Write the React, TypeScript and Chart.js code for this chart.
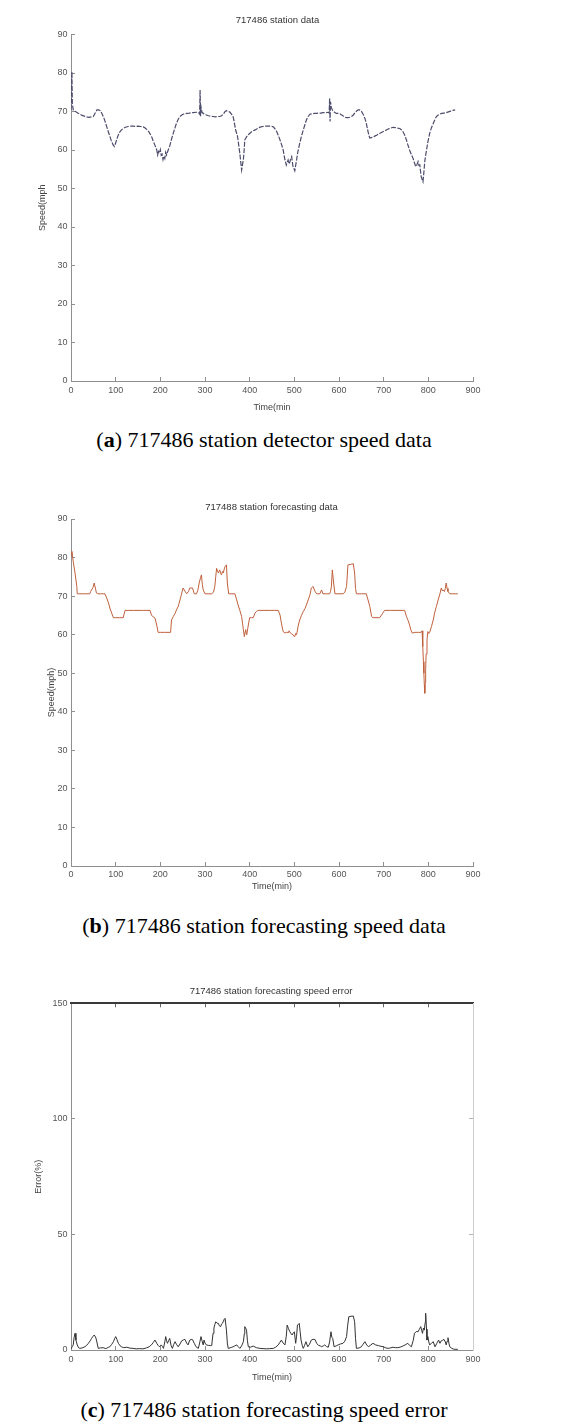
import React, { useEffect, useRef } from "react";
import { Chart, registerables } from "chart.js";

Chart.register(...registerables);

// ---- (a) detector speed, station 717486 ----
const detectorTime = [
  0, 1, 2, 3, 5, 10, 15, 20, 25, 30,
  35, 40, 45, 50, 55, 58, 62, 66, 70, 74,
  78, 82, 86, 90, 94, 97, 100, 104, 108, 112,
  117, 122, 128, 134, 139, 145, 150, 156, 162, 166,
  170, 174, 177, 181, 184, 188, 192, 194, 196, 198,
  200, 202, 204, 206, 208, 210, 212, 214, 217, 221,
  225, 229, 233, 236, 240, 244, 248, 251, 255, 259,
  265, 270, 274, 280, 285, 288, 289, 290, 291, 293,
  296, 300, 303, 308, 313, 318, 323, 328, 333, 337,
  341, 345, 348, 352, 356, 360, 363, 365, 367, 369,
  371, 373, 374, 376, 378, 380, 382, 384, 386, 388,
  389, 391, 393, 396, 400, 405, 410, 415, 420, 425,
  430, 436, 440, 445, 450, 453, 456, 460, 464, 468,
  472, 475, 477, 479, 481, 482, 484, 486, 488, 490,
  492, 494, 496, 497, 499, 501, 503, 505, 508, 512,
  516, 520, 524, 527, 531, 535, 540, 545, 550, 556,
  560, 564, 570, 576, 578, 579, 580, 581, 583, 586,
  590, 594, 598, 602, 606, 610, 613, 617, 620, 624,
  628, 632, 636, 640, 643, 646, 650, 654, 658, 661,
  663, 665, 667, 669, 672, 676, 680, 685, 691, 696,
  701, 706, 711, 716, 721, 726, 731, 736, 740, 743,
  747, 751, 754, 758, 762, 766, 769, 771, 773, 775,
  777, 779, 781, 782, 784, 786, 788, 790, 792, 794,
  796, 799, 803, 807, 811, 815, 818, 822, 825, 830,
  835, 840, 845, 850, 855, 860,
];
const detectorSpeed = [
  70.5, 76, 80.3, 72, 70.4, 70, 69.6, 69.3, 69, 68.8,
  68.6, 68.5, 68.6, 68.7, 69.8, 70.4, 70.4, 70.2, 69.3, 68.2,
  66.8, 65.3, 63.9, 62.5, 61.4, 60.9, 61.8, 63.3, 64.5, 65.1,
  65.6, 65.9, 66.1, 66.2, 66.2, 66.1, 66.2, 66.1, 66.0, 65.7,
  65.3, 64.8, 64.2, 63.3, 62.3, 61.2, 60.0, 58.7, 59.6, 59.2,
  60.1, 58.6, 58.9, 57.5, 58.4, 57.8, 59.4, 58.7, 59.8, 61.0,
  62.8, 64.4, 65.8, 66.9, 68.0, 68.7, 69.1, 69.3, 69.4, 69.5,
  69.6, 69.7, 69.7, 69.8, 69.8, 69.3, 75.6, 68.8, 71.2, 69.9,
  69.5, 69.3, 69.1, 68.9, 68.8, 68.7, 68.6, 68.7, 68.7, 68.9,
  69.3, 70.0, 70.2, 70.1, 69.8, 69.2, 68.6, 67.6, 66.2, 65.0,
  64.3, 63.4, 62.6, 60.8, 59.1, 56.9, 54.8, 56.2, 57.6, 60.5,
  62.6, 63.0, 63.4, 63.9, 64.3, 64.8, 65.1, 65.4, 65.8, 66.0,
  66.1, 66.2, 66.2, 66.2, 66.1, 66.0, 65.6, 64.9, 63.8, 62.6,
  61.2, 60.0, 58.7, 57.4, 56.6, 56.1, 56.8, 57.4, 56.4, 56.9,
  57.8, 58.3, 56.5, 55.7, 55.2, 54.6, 56.0, 57.4, 59.6, 61.7,
  63.6, 65.2, 66.7, 67.8, 68.7, 69.3, 69.4, 69.5, 69.5, 69.6,
  69.6, 69.7, 69.7, 69.8, 69.6, 73.4, 67.4, 72.5, 71.0, 70.2,
  69.8, 69.5, 69.5, 69.4, 69.1, 68.8, 68.5, 68.4, 68.4, 68.5,
  68.7, 69.1, 69.7, 70.2, 70.4, 70.4, 70.1, 69.3, 68.2, 67.0,
  65.9, 64.8, 63.8, 63.1, 63.2, 63.3, 63.6, 63.9, 64.3, 64.6,
  64.9, 65.2, 65.5, 65.7, 65.9, 65.8, 65.7, 65.6, 65.2, 64.8,
  63.9, 62.6, 61.4, 60.0, 58.8, 57.8, 56.6, 56.0, 55.7, 56.4,
  57.0, 56.0, 56.1, 55.0, 53.1, 52.4, 51.8, 54.2, 57.0, 58.6,
  60.0, 62.1, 64.3, 65.8, 66.9, 68.0, 68.7, 69.1, 69.3, 69.5,
  69.6, 69.7, 69.9, 70.1, 70.3, 70.4,
];

// ---- (b) forecast speed ----
const forecastTime = [
  0, 2, 5, 9, 13, 14, 20, 30, 40, 42,
  44, 46, 49, 52, 55, 57, 60, 66, 72, 76,
  80, 84, 87, 91, 95, 100, 108, 117, 119, 121,
  130, 140, 150, 160, 170, 177, 180, 184, 188, 192,
  195, 200, 210, 223, 225, 229, 233, 236, 240, 244,
  248, 251, 255, 259, 263, 266, 272, 276, 281, 284,
  287, 290, 292, 294, 296, 300, 307, 315, 319, 322,
  324, 326, 328, 330, 333, 335, 337, 339, 341, 343,
  345, 348, 350, 353, 360, 367, 371, 374, 378, 382,
  384, 386, 388, 390, 391, 393, 394, 396, 397, 400,
  404, 408, 412, 415, 419, 430, 445, 455, 464, 468,
  471, 475, 479, 482, 486, 488, 490, 494, 497, 499,
  501, 503, 505, 507, 509, 512, 516, 520, 524, 527,
  531, 535, 538, 542, 546, 550, 557, 561, 564, 572,
  579, 581, 583, 585, 588, 591, 600, 609, 613, 617,
  620, 625, 632, 635, 637, 639, 650, 661, 665, 669,
  673, 676, 685, 691, 697, 702, 715, 730, 747, 751,
  755, 758, 761, 764, 770, 778, 784, 786, 787, 788,
  789, 790, 791, 792, 793, 794, 795, 797, 799, 801,
  803, 807, 811, 814, 818, 822, 826, 829, 831, 833,
  836, 838, 840, 842, 844, 848, 855, 860, 866,
];
const forecastSpeed = [
  80.5, 81.6, 79, 76, 72.5, 70.6, 70.6, 70.6, 70.6, 70.6,
  71.2, 71.6, 72.2, 73.4, 71.8, 70.8, 70.6, 70.6, 70.6, 70.6,
  69.5, 68.2, 66.9, 65.6, 64.4, 64.4, 64.4, 64.4, 65.4, 66.3,
  66.3, 66.3, 66.3, 66.3, 66.3, 66.3, 65.1, 64.6, 64.3, 62.5,
  60.6, 60.6, 60.6, 60.6, 63.8, 64.7, 65.5, 66.4, 67.3, 69.0,
  70.8, 72.1, 71.3, 70.6, 71.2, 72.1, 72.1, 70.6, 70.6, 71.5,
  73.4, 74.8, 75.5, 73.0, 71.6, 70.6, 70.6, 70.6, 71.0, 72.5,
  75.0, 77.2, 76.5, 76.0, 76.8, 75.9, 75.5, 76.4, 76.0, 77.0,
  77.7, 78.1, 73.4, 70.6, 70.6, 70.6, 69.0, 67.7, 66.3, 64.7,
  63.0, 61.3, 59.5, 60.8, 61.3, 60.0, 60.4, 61.8, 62.5, 64.4,
  64.4, 64.4, 65.6, 66.0, 66.3, 66.3, 66.3, 66.3, 66.3, 65.1,
  63.0, 60.8, 60.4, 60.6, 60.6, 61.0, 60.6, 60.2, 60.0, 59.6,
  59.5, 60.3, 60.0, 61.2, 62.5, 63.8, 65.0, 66.0, 66.8, 67.7,
  69.0, 70.3, 72.1, 72.5, 71.3, 70.6, 70.6, 71.6, 70.6, 70.6,
  70.6, 71.2, 72.5, 76.8, 73.4, 70.6, 70.6, 70.6, 71.0, 72.5,
  78.1, 78.2, 78.4, 76.0, 72.0, 70.6, 70.6, 70.6, 69.0, 67.3,
  64.7, 64.4, 64.4, 64.4, 65.4, 66.3, 66.3, 66.3, 66.3, 64.7,
  63.6, 62.5, 61.2, 60.4, 60.6, 60.6, 60.6, 61.0, 58.0, 56.9,
  53.0, 50.0, 47.0, 44.8, 47.5, 50.9, 55.0, 58.7, 60.8, 60.3,
  60.6, 62.1, 63.8, 65.6, 67.3, 69.0, 70.6, 72.1, 71.4, 71.6,
  71.2, 72.0, 73.4, 72.0, 71.2, 70.6, 70.6, 70.6, 70.6,
];

// ---- (c) forecast error in percent ----
const errorTime = [
  0, 3, 5, 7, 9, 11, 14, 17, 20, 25,
  31, 35, 39, 43, 46, 49, 52, 55, 57, 61,
  66, 72, 78, 84, 87, 91, 95, 98, 100, 103,
  106, 110, 113, 118, 125, 132, 139, 146, 154, 161,
  169, 175, 180, 184, 188, 192, 195, 198, 202, 205,
  207, 210, 212, 214, 216, 219, 221, 224, 227, 230,
  233, 236, 240, 244, 248, 252, 255, 259, 262, 266,
  269, 272, 276, 280, 285, 288, 291, 294, 296, 298,
  300, 303, 308, 312, 315, 318, 320, 322, 324, 327,
  330, 332, 335, 337, 339, 341, 342, 345, 348, 350,
  352, 356, 360, 363, 367, 371, 374, 378, 382, 386,
  388, 389, 391, 393, 395, 397, 402, 408, 415, 423,
  430, 438, 445, 453, 458, 464, 468, 471, 475, 479,
  482, 484, 487, 490, 493, 495, 498, 500, 503, 505,
  507, 509, 511, 513, 515, 518, 520, 523, 526, 530,
  534, 538, 542, 546, 550, 554, 558, 561, 565, 568,
  572, 576, 579, 582, 584, 586, 589, 594, 598, 603,
  609, 613, 617, 619, 622, 627, 632, 635, 637, 639,
  645, 650, 654, 658, 662, 666, 670, 676, 682, 688,
  694, 699, 705, 710, 715, 721, 726, 732, 738, 743,
  748, 754, 758, 762, 766, 769, 773, 777, 780, 783,
  785, 787, 789, 791, 793, 794, 796, 797, 799, 801,
  803, 807, 811, 815, 819, 823, 826, 829, 832, 835,
  838, 840, 842, 844, 846, 848, 852, 856, 860, 866,
];
const errorPercent = [
  0.5, 1.5, 2.2, 5.5, 7.2, 4.3, 2.2, 1.0, 0.7, 0.9,
  1.4, 2.0, 2.9, 4.0, 5.0, 5.8, 6.5, 5.6, 4.3, 0.7,
  0.9, 1.0, 0.6, 1.2, 1.4, 2.4, 3.6, 5.0, 5.8, 4.5,
  2.9, 1.8, 1.4, 1.0, 1.2, 0.8, 0.7, 0.5, 0.6, 0.5,
  0.9, 1.4, 2.2, 3.2, 4.3, 2.9, 2.0, 1.4, 2.2, 1.5,
  0.7, 3.5, 5.8, 4.0, 2.9, 4.2, 5.0, 2.0, 0.7, 2.4,
  3.6, 2.5, 1.4, 2.6, 4.0, 4.4, 4.6, 3.0, 2.2, 4.3,
  4.6, 4.5, 2.9, 1.4, 0.7, 3.0, 5.8, 3.5, 2.2, 4.3,
  3.0, 2.2, 2.0, 1.9, 1.9, 7.2, 9.5, 11.0, 12.2, 11.6,
  11.5, 10.5, 10.1, 11.2, 11.5, 12.4, 13.0, 13.7, 8.6, 3.0,
  0.7, 0.9, 1.2, 1.4, 1.8, 2.2, 1.5, 0.7, 1.8, 3.6,
  7.0, 10.1, 9.5, 8.6, 4.0, 1.4, 1.2, 1.7, 1.0, 0.7,
  0.6, 0.5, 0.6, 0.7, 1.2, 2.2, 3.4, 4.3, 3.0, 2.2,
  6.0, 10.8, 9.2, 7.9, 7.0, 6.5, 7.5, 7.9, 2.9, 6.0,
  10.8, 11.0, 11.5, 8.0, 4.3, 1.8, 0.7, 2.0, 3.6, 1.4,
  2.5, 4.3, 4.6, 4.6, 2.9, 2.0, 1.8, 1.4, 1.8, 2.2,
  1.5, 1.2, 3.5, 7.9, 5.5, 5.0, 1.4, 1.8, 2.2, 2.6,
  2.9, 3.8, 5.8, 10.0, 14.4, 14.6, 14.7, 12.2, 5.0, 0.7,
  0.9, 1.4, 2.5, 3.6, 2.2, 1.4, 2.0, 2.9, 2.2, 1.9,
  1.6, 1.4, 0.9, 0.7, 0.9, 1.2, 1.0, 1.0, 1.3, 1.7,
  2.2, 2.9, 2.0, 1.4, 4.0, 7.2, 8.0, 7.9, 9.0, 10.1,
  8.5, 7.2, 9.5, 8.6, 12.0, 15.9, 9.0, 4.3, 5.8, 3.5,
  2.2, 2.9, 3.6, 1.4, 2.9, 4.3, 2.9, 4.0, 4.2, 4.6,
  3.5, 2.2, 3.8, 5.3, 3.0, 1.4, 0.8, 0.4, 0.3, 0.3,
];

const timeMax = 900;
const timeStep = 100;
const speedMax = 90;
const speedStep = 10;
const errorMax = 150;
const errorStep = 50;

const SANS = "'Liberation Sans', Arial, Helvetica, sans-serif";
const SERIF = "'Liberation Serif', 'Times New Roman', Times, serif";
const AXIS_GRAY = "#8f8f8f";
const TICK_TEXT = "#555555";
const tickFont = { family: SANS, size: 9 };

type PanelSpec = {
  top: number;
  height: number;
  padTop: number;
  padBottom: number;
  yMax: number;
  yStep: number;
  yTitle: string;
  yTitlePad: number;
  xTitle: string;
  xAxisHeight: number;
  xTitlePad: number;
  xTickPad: number;
  times: number[];
  values: number[];
  color: string;
  lineWidth: number;
  dash: number[];
  boxed: boolean;
};

function buildConfig(s: PanelSpec): any {
  const points = s.times.map((t, i) => ({ x: t, y: s.values[i] }));
  const innerGrid = {
    drawOnChartArea: false,
    drawTicks: true,
    tickLength: -4,
    color: AXIS_GRAY,
  };
  const scales: any = {
    x: {
      type: "linear",
      position: "bottom",
      min: 0,
      max: timeMax,
      ticks: {
        stepSize: timeStep,
        color: TICK_TEXT,
        font: tickFont,
        padding: s.xTickPad,
        maxRotation: 0,
        autoSkip: false,
      },
      grid: innerGrid,
      border: { display: true, color: AXIS_GRAY, width: 1 },
      title: {
        display: true,
        text: s.xTitle,
        color: "#444",
        font: tickFont,
        padding: { top: 0, bottom: s.xTitlePad },
      },
      afterFit: (sc: any) => {
        sc.height = s.xAxisHeight;
      },
    },
    y: {
      type: "linear",
      position: "left",
      min: 0,
      max: s.yMax,
      ticks: {
        stepSize: s.yStep,
        color: TICK_TEXT,
        font: tickFont,
        padding: 7.5,
      },
      grid: innerGrid,
      border: { display: true, color: AXIS_GRAY, width: 1 },
      title: {
        display: true,
        text: s.yTitle,
        color: "#444",
        font: tickFont,
        padding: { top: s.yTitlePad, bottom: 0 },
      },
      afterFit: (sc: any) => {
        sc.width = 71;
      },
    },
  };
  if (s.boxed) {
    scales.x2 = {
      type: "linear",
      position: "top",
      min: 0,
      max: timeMax,
      ticks: { display: false, stepSize: timeStep },
      grid: { ...innerGrid, color: "#666" },
      border: { display: true, color: "#3a3a3a", width: 2 },
      afterFit: (sc: any) => {
        sc.height = 0;
      },
    };
    scales.y2 = {
      type: "linear",
      position: "right",
      min: 0,
      max: s.yMax,
      ticks: { display: false, stepSize: s.yStep },
      grid: { ...innerGrid, color: "#b5b5b5" },
      border: { display: true, color: "#cfcfcf", width: 1 },
      afterFit: (sc: any) => {
        sc.width = 0;
      },
    };
  }
  return {
    type: "line",
    data: {
      datasets: [
        {
          data: points,
          xAxisID: "x",
          yAxisID: "y",
          borderColor: s.color,
          borderWidth: s.lineWidth,
          borderDash: s.dash,
          pointRadius: 0,
          tension: 0,
          fill: false,
        },
      ],
    },
    options: {
      responsive: false,
      animation: false,
      devicePixelRatio: 1,
      layout: {
        padding: { left: 0, right: 98, top: s.padTop, bottom: s.padBottom },
      },
      plugins: {
        legend: { display: false },
        tooltip: { enabled: false },
        title: { display: false },
      },
      scales,
    },
  };
}

function Panel({ spec }: { spec: PanelSpec }) {
  const ref = useRef<HTMLCanvasElement | null>(null);
  useEffect(() => {
    if (!ref.current) return;
    const chart = new Chart(ref.current, buildConfig(spec));
    return () => chart.destroy();
  }, [spec]);
  return (
    <canvas
      ref={ref}
      width={571}
      height={spec.height}
      style={{
        position: "absolute",
        left: 0,
        top: spec.top,
        width: 571,
        height: spec.height,
      }}
    />
  );
}

const panelA: PanelSpec = {
  top: 0,
  height: 425,
  padTop: 34.5,
  padBottom: 8,
  yMax: speedMax,
  yStep: speedStep,
  yTitle: "Speed(mph",
  yTitlePad: 37.6,
  xTitle: "Time(min",
  xAxisHeight: 36,
  xTitlePad: 3.6,
  xTickPad: 8,
  times: detectorTime,
  values: detectorSpeed,
  color: "#4c4c6c",
  lineWidth: 1.2,
  dash: [5, 1.5],
  boxed: false,
};

const panelB: PanelSpec = {
  top: 480,
  height: 430,
  padTop: 39,
  padBottom: 14,
  yMax: speedMax,
  yStep: speedStep,
  yTitle: "Speed(mph)",
  yTitlePad: 46.6,
  xTitle: "Time(min)",
  xAxisHeight: 30,
  xTitlePad: 3.9,
  xTickPad: 7,
  times: forecastTime,
  values: forecastSpeed,
  color: "#c0603c",
  lineWidth: 1,
  dash: [],
  boxed: false,
};

const panelC: PanelSpec = {
  top: 975,
  height: 420,
  padTop: 28.3,
  padBottom: 9,
  yMax: errorMax,
  yStep: errorStep,
  yTitle: "Error(%)",
  yTitlePad: 33.6,
  xTitle: "Time(min)",
  xAxisHeight: 36,
  xTitlePad: 2.9,
  xTickPad: 8,
  times: errorTime,
  values: errorPercent,
  color: "#333333",
  lineWidth: 1,
  dash: [],
  boxed: true,
};

const chartTitles = [
  { text: "717486 station data", cx: 277.5, cy: 19.5 },
  { text: "717488 station forecasting data", cx: 271.5, cy: 506.7 },
  { text: "717486 station forecasting speed error", cx: 271, cy: 990.7 },
];

const captions = [
  { tag: "a", text: " 717486 station detector speed data", cy: 440 },
  { tag: "b", text: " 717486 station forecasting speed data", cy: 925.7 },
  { tag: "c", text: " 717486 station forecasting speed error", cy: 1410 },
];

export default function App() {
  return (
    <div
      style={{
        position: "absolute",
        left: 0,
        top: 0,
        width: 571,
        height: 1427,
        background: "#ffffff",
        overflow: "hidden",
      }}
    >
      <Panel spec={panelA} />
      <Panel spec={panelB} />
      <Panel spec={panelC} />
      {chartTitles.map((t) => (
        <div
          key={t.text}
          style={{
            position: "absolute",
            left: t.cx,
            top: t.cy - 6,
            transform: "translateX(-50%)",
            fontFamily: SANS,
            fontSize: 9.5,
            lineHeight: "12px",
            color: "#333",
            whiteSpace: "nowrap",
          }}
        >
          {t.text}
        </div>
      ))}
      {captions.map((c) => (
        <div
          key={c.tag}
          style={{
            position: "absolute",
            left: 264,
            top: c.cy - 13,
            transform: "translateX(-50%)",
            fontFamily: SERIF,
            fontSize: 22,
            lineHeight: "26px",
            color: "#000",
            whiteSpace: "nowrap",
          }}
        >
          (<b>{c.tag}</b>){c.text}
        </div>
      ))}
    </div>
  );
}
